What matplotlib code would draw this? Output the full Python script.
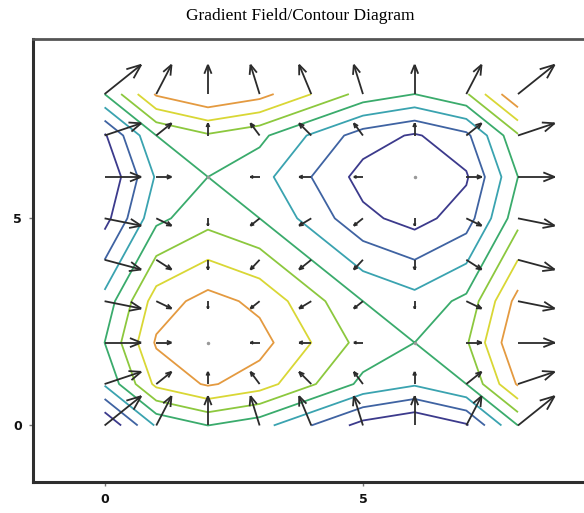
import numpy as np
import matplotlib
matplotlib.use("Agg")
import matplotlib.pyplot as plt
from matplotlib.collections import LineCollection

# grid indices 0..8 in both directions
xs = np.arange(9)
ys = np.arange(9)

# profile of the surface along one axis (f = g(x) + g(y))
g_vals = np.array([0.0, 8.333, 10.667, 9.0, 5.333, 1.667, 0.0, 2.333, 10.667])
# slope of that profile at each grid index (gradient component)
g_slope = np.array([12.0, 5.0, 0.0, -3.0, -4.0, -3.0, 0.0, 5.0, 12.0])

levels = [2.667, 5.333, 8.0, 10.667, 13.333, 16.0, 18.667]
level_colors = ['#3c3a8c', '#3f63a2', '#3aa3b0', '#3aab6c',
                '#8cc83e', '#d9d735', '#e49a40']

X, Y = np.meshgrid(xs, ys)
Z = g_vals[None, :] + g_vals[:, None]
U = np.tile(g_slope, (len(ys), 1))
V = np.tile(g_slope[:, None], (1, len(xs)))

fig = plt.figure(figsize=(5.84, 5.13), dpi=100)
ax = fig.add_axes([0.057, 0.06, 0.96, 0.864])
ax.set_xlim(-1.38, 9.47)
ax.set_ylim(-1.37, 9.33)

ax.contour(X, Y, Z, levels=levels, colors=level_colors, linewidths=1.3)

# gradient arrows, tail on grid point, longest arrow = 1 grid unit
mag = np.hypot(U, V)
s = 1.0 / mag.max()
trans = ax.transData
inv = trans.inverted()
segs = []
dots_x, dots_y = [], []
ang = np.deg2rad(22)
for i in range(len(ys)):
    for j in range(len(xs)):
        x0, y0 = X[i, j], Y[i, j]
        u, v = U[i, j] * s, V[i, j] * s
        p0 = trans.transform((x0, y0))
        p1 = trans.transform((x0 + u, y0 + v))
        d = p1 - p0
        L = np.hypot(*d)
        if L < 1:
            dots_x.append(x0)
            dots_y.append(y0)
            continue
        e = d / L
        h = 0.33 * L
        rot1 = np.array([e[0]*np.cos(ang) - e[1]*np.sin(ang), e[0]*np.sin(ang) + e[1]*np.cos(ang)])
        rot2 = np.array([e[0]*np.cos(ang) + e[1]*np.sin(ang), -e[0]*np.sin(ang) + e[1]*np.cos(ang)])
        b1 = p1 - h * rot1
        b2 = p1 - h * rot2
        pts = inv.transform(np.array([p0, p1, b1, b2]))
        segs.append([pts[0], pts[1]])
        segs.append([pts[2], pts[1]])
        segs.append([pts[3], pts[1]])

ax.add_collection(LineCollection(segs, colors='#2b2b2b', linewidths=1.3, zorder=3))
ax.plot(dots_x, dots_y, 'o', color='#999999', markersize=1.5, zorder=3)

# frame
for sp in ['left', 'bottom']:
    ax.spines[sp].set_linewidth(2.2)
    ax.spines[sp].set_color('#2e2e2e')
ax.spines['top'].set_linewidth(2.0)
ax.spines['top'].set_color('#555555')
ax.spines['right'].set_visible(False)

ax.set_xticks([0, 5])
ax.set_yticks([0, 5])
ax.set_xticklabels(['0', '5'])
ax.set_yticklabels(['0', '5'])
ax.tick_params(length=3, width=1, color='#777777', pad=5, direction='out')
for lab in ax.get_xticklabels() + ax.get_yticklabels():
    lab.set_family(['Liberation Sans Narrow', 'DejaVu Sans'])
    lab.set_fontweight('bold')
    lab.set_fontsize(9)
    lab.set_color('#111111')

fig.text(0.514, 0.968, 'Gradient Field/Contour Diagram', ha='center', va='center',
         family=['Liberation Serif', 'DejaVu Serif'], fontsize=12.5)

fig.savefig('out.png', dpi=100)
